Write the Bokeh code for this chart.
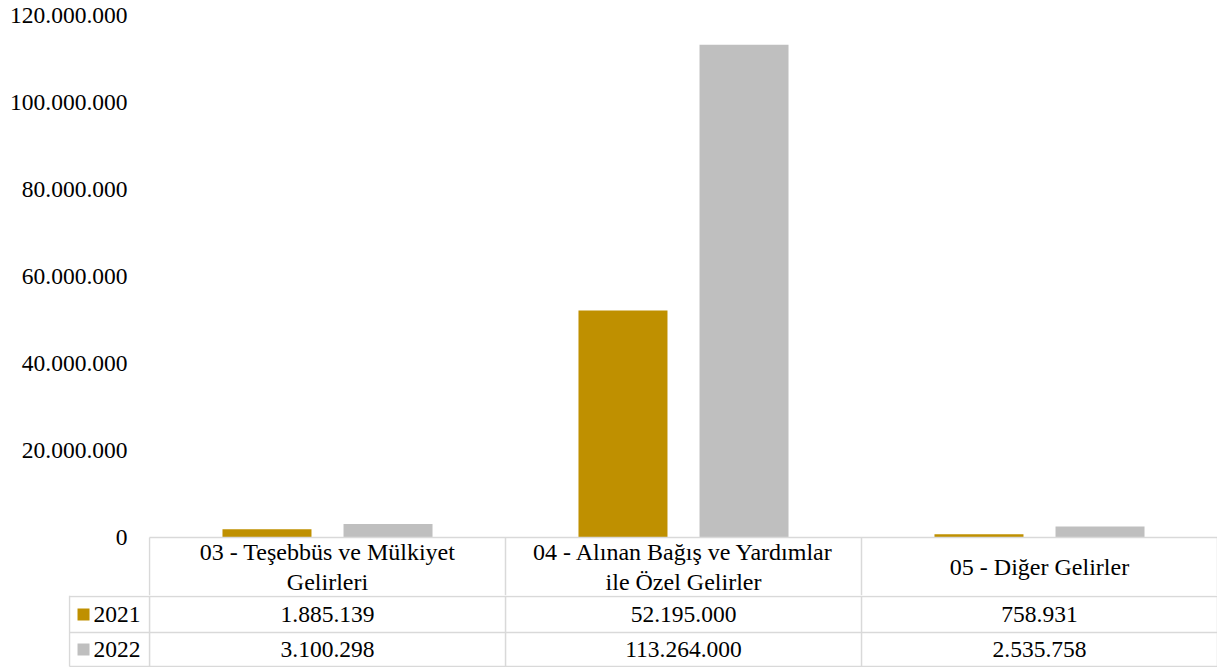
import numpy as np
from bokeh.plotting import figure
from bokeh.models import Range1d, FixedTicker
from bokeh.layouts import column
from bokeh.embed import file_html
from bokeh.resources import INLINE
from bokeh.core.properties import value

# ---------------- data ----------------
categories = [
    "03 - Teşebbüs ve Mülkiyet Gelirleri",
    "04 - Alınan Bağış ve Yardımlar ile Özel Gelirler",
    "05 - Diğer Gelirler",
]
category_labels = [
    "03 - Teşebbüs ve Mülkiyet\nGelirleri",
    "04 - Alınan Bağış ve Yardımlar\nile Özel Gelirler",
    "05 - Diğer Gelirler",
]
series_names = ["2021", "2022"]
values_2021 = [1885139, 52195000, 758931]
values_2022 = [3100298, 113264000, 2535758]
series_colors = ["#BF9000", "#BFBFBF"]
y_ticks = [0, 20000000, 40000000, 60000000, 80000000, 100000000, 120000000]
y_tick_labels = ["0", "20.000.000", "40.000.000", "60.000.000",
                 "80.000.000", "100.000.000", "120.000.000"]

def fmt(v):
    return f"{v:,}".replace(",", ".")

# ---------------- layout constants ----------------
FONT_NAME = "'Liberation Serif', 'Times New Roman', serif"
FONT = value(FONT_NAME)
FSIZE = value("23.5px")
HFSIZE = value("24px")
GRID_COLOR = "#D9D9D9"
GRID_W = 1.5
W = 1217
n = len(categories)
UNIT = 1067 / n          # px per category column
PAD = 1 / UNIT
LEG = 80 / UNIT          # legend column width in category units
TOP = 15
PLOT_PX = 522            # px from y max to 0
HDR = 58                 # header row height (px) inside chart figure
H1 = TOP + PLOT_PX + HDR
H2 = 72                  # table rows figure height
ROW1 = 36
ROW_END = 70

idx = np.arange(n)
y_max = y_ticks[-1]

# ---------------- chart figure ----------------
p = figure(width=W, height=H1, output_backend="svg", toolbar_location=None,
           x_range=Range1d(-PAD, n),
           y_range=Range1d(-HDR * y_max / PLOT_PX, y_max),
           x_axis_location=None, min_border_left=148, min_border_right=0,
           min_border_top=TOP, min_border_bottom=0)
p.extra_y_ranges = {"hdr": Range1d(start=HDR, end=-PLOT_PX)}
p.outline_line_color = None
p.grid.visible = False
p.background_fill_color = "white"
p.border_fill_color = "white"

ax = p.yaxis[0]
ax.ticker = FixedTicker(ticks=y_ticks)
ax.major_label_overrides = {t: l for t, l in zip(y_ticks, y_tick_labels)}
ax.axis_line_color = None
ax.major_tick_line_color = None
ax.minor_tick_line_color = None
ax.major_tick_in = 0
ax.major_tick_out = 0
ax.major_label_standoff = 21
ax.major_label_text_font = FONT_NAME
ax.major_label_text_font_size = "23.5px"
ax.major_label_text_color = "black"

OFF = 0.17
BW = 0.25
p.vbar(x=idx + 0.5 - OFF, top=values_2021, bottom=0, width=BW,
       fill_color=series_colors[0], line_color=None)
p.vbar(x=idx + 0.5 + OFF, top=values_2022, bottom=0, width=BW,
       fill_color=series_colors[1], line_color=None)

# header row of data table
p.segment(x0=[0], y0=[0], x1=[n], y1=[0], y_range_name="hdr",
          line_color=GRID_COLOR, line_width=GRID_W)
p.segment(x0=list(range(n + 1)), y0=[0] * (n + 1), x1=list(range(n + 1)),
          y1=[HDR] * (n + 1), y_range_name="hdr",
          line_color=GRID_COLOR, line_width=GRID_W)
p.text(x=idx + 0.5, y=[(HDR + 1) / 2] * n, text=category_labels, y_range_name="hdr",
       text_align="center", text_baseline="middle", text_font=FONT,
       text_font_size=HFSIZE, text_color="black", text_line_height=1.13)

# ---------------- table rows figure ----------------
t = figure(width=W, height=H2, output_backend="svg", toolbar_location=None,
           x_range=Range1d(-LEG - PAD, n),
           y_range=Range1d(H2 - 1, -1),
           x_axis_location=None, y_axis_location=None,
           min_border_left=68, min_border_right=0,
           min_border_top=0, min_border_bottom=0)
t.outline_line_color = None
t.grid.visible = False
t.background_fill_color = "white"
t.border_fill_color = "white"

for fig in (p, t):
    if "frame_align" in fig.properties():
        fig.frame_align = False

row_lines = [0, ROW1, ROW_END]
t.segment(x0=[-LEG] * 3, y0=row_lines, x1=[n] * 3, y1=row_lines,
          line_color=GRID_COLOR, line_width=GRID_W)
col_lines = [-LEG] + list(range(n + 1))
t.segment(x0=col_lines, y0=[-1] * len(col_lines), x1=col_lines,
          y1=[ROW_END] * len(col_lines), line_color=GRID_COLOR, line_width=GRID_W)

row_centers = [ROW1 / 2, (ROW1 + ROW_END) / 2]
t.scatter(x=[-LEG + 14 / UNIT] * 2, y=row_centers, marker="square", size=12,
          fill_color=series_colors, line_color=None)
t.text(x=[-LEG + 24 / UNIT] * 2, y=row_centers, text=series_names,
       text_align="left", text_baseline="middle", text_font=FONT,
       text_font_size=FSIZE, text_color="black")

for vals, yc in zip([values_2021, values_2022], row_centers):
    t.text(x=idx + 0.5, y=[yc] * n, text=[fmt(v) for v in vals],
           text_align="center", text_baseline="middle", text_font=FONT,
           text_font_size=FSIZE, text_color="black")

layout = column(p, t, spacing=0)
open("out.html", "w").write(file_html(layout, INLINE))
